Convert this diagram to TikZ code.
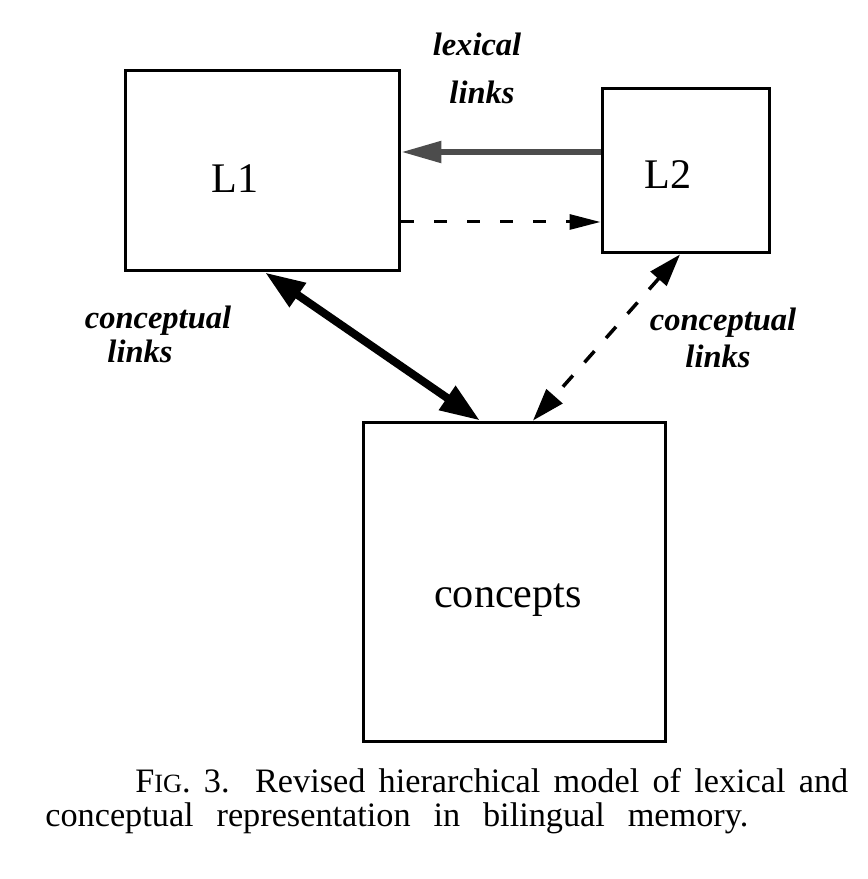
\documentclass[tikz,border=0pt]{standalone}
\usepackage{fontspec}
\setmainfont{Liberation Serif}
\usetikzlibrary{positioning,calc,arrows.meta}

\begin{document}
\begin{tikzpicture}[x=0.02cm,y=-0.02cm]
	% Configurable lengths
	\def\boxLine{1.7pt}
	\def\lexShift{0.37cm}
	\def\dashShift{-1.03cm}

	% Styles
	\tikzstyle{store}=[draw, rectangle, line width=\boxLine, inner sep=0pt]
	\tikzstyle{storetext}=[font={\fontsize{24}{28}\selectfont}, anchor=base]
	\tikzstyle{linklabel}=[font={\fontsize{18.5}{22}\selectfont\bfseries\itshape}, inner sep=0pt, anchor=base]
	\tikzstyle{captionline}=[font={\fontsize{19.5}{22}\selectfont}, anchor=base west, inner sep=0pt]
	\tikzstyle{lexarrow}=[-{Triangle[length=0.8cm,width=0.42cm]}, line width=0.11cm, black!70]
	\tikzstyle{weakarrow}=[-{Triangle[length=0.62cm,width=0.3cm]}, line width=0.06cm, dash pattern=on 0.26cm off 0.4cm]
	\tikzstyle{strongarrow}=[{Triangle[length=0.8cm,width=0.55cm]}-{Triangle[length=0.8cm,width=0.55cm]}, line width=0.16cm]
	\tikzstyle{conceptarrow}=[{Triangle[length=0.65cm,width=0.42cm]}-{Triangle[length=0.65cm,width=0.42cm]}, line width=0.07cm, dash pattern=on 0.3cm off 0.35cm]

	\useasboundingbox (0,0) rectangle (867,879);

	% Stores
	\node[store, minimum width=5.5cm, minimum height=4.02cm] (L1) at (262.5,170.5) {};
	\node[store, minimum width=3.36cm, minimum height=3.3cm] (L2) at (686,170.5) {};
	\node[store, minimum width=6.06cm, minimum height=6.4cm] (concepts) at (514.5,582) {};
	\node[storetext] (L1text) at (235,192) {L1};
	\node[storetext] (L2text) at (668,188) {L2};
	\node[storetext] (conceptstext) at (508,607) {concepts};

	% Labels
	\node[linklabel] (lexword) at (477,55) {lexical};
	\node[linklabel] (lexlinks) at (482,103) {links};
	\node[linklabel] (leftconword) at (158,328) {conceptual};
	\node[linklabel] (leftlinks) at (140,362) {links};
	\node[linklabel] (rightconword) at (723,330) {conceptual};
	\node[linklabel] (rightlinks) at (718,367) {links};

	% Arrows
	\draw[lexarrow] ([yshift=\lexShift]L2.west) -- ([yshift=\lexShift]L1.east);
	\draw[weakarrow] ([yshift=\dashShift]L1.east) -- ([yshift=\dashShift]L2.west);
	\draw[strongarrow] ([xshift=0.05cm]L1.south) -- ([xshift=-0.69cm]concepts.north);
	\draw[conceptarrow] ([xshift=-0.12cm]L2.south) -- ([xshift=0.37cm]concepts.north);

	% Caption
	\node[captionline] (capfirst) at (135,792) {\makebox[14.26cm][s]{F{\fontsize{15}{18}\selectfont IG}. 3. Revised hierarchical model of lexical and}};
	\node[captionline] (capsecond) at (45,826) {\makebox[14.06cm][s]{conceptual representation in bilingual memory.}};
\end{tikzpicture}
\end{document}
